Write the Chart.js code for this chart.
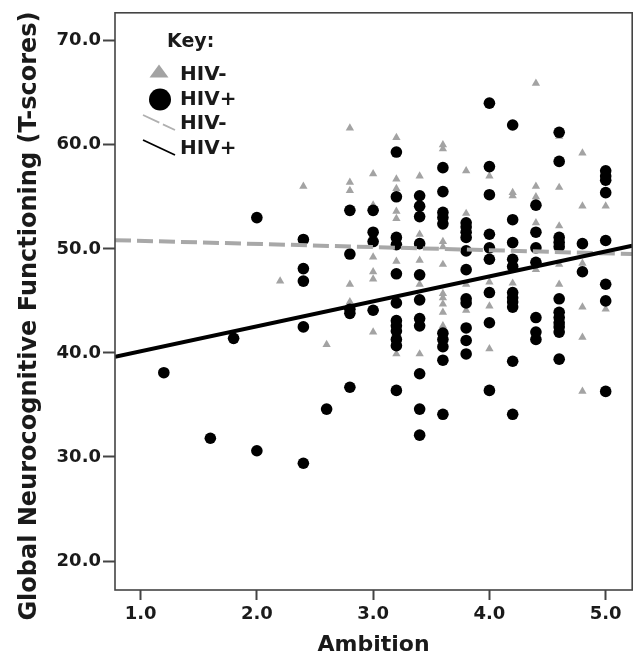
<!DOCTYPE html>
<html>
<head>
<meta charset="utf-8">
<script src="https://cdn.jsdelivr.net/npm/chart.js@4.4.1/dist/chart.umd.min.js"></script>
<style>
  html, body { margin: 0; padding: 0; background: #ffffff; }
  #wrap { width: 638px; height: 658px; }
</style>
</head>
<body>
<div id="wrap"><canvas id="c" width="638" height="658"></canvas></div>
<script>
// ---------- data ----------
const xTicks = [1.0, 2.0, 3.0, 4.0, 5.0];
const yTicks = [20, 30, 40, 50, 60, 70];
const xRange = [0.78, 5.228];
const yRange = [17.22, 72.68];

// HIV- (triangles)
const hivNegAmbition = [
  2.2, 2.4, 2.6,
  2.8, 2.8, 2.8, 2.8, 2.8,
  3.0, 3.0, 3.0, 3.0, 3.0, 3.0,
  3.2, 3.2, 3.2, 3.2, 3.2, 3.2, 3.2,
  3.4, 3.4, 3.4, 3.4, 3.4,
  3.6, 3.6, 3.6, 3.6, 3.6, 3.6, 3.6, 3.6, 3.6, 3.6,
  3.8, 3.8, 3.8, 3.8,
  4.0, 4.0, 4.0, 4.0,
  4.2, 4.2, 4.2,
  4.4, 4.4, 4.4, 4.4, 4.4,
  4.6, 4.6, 4.6, 4.6, 4.6,
  4.8, 4.8, 4.8, 4.8, 4.8, 4.8,
  5.0, 5.0
];
const hivNegScore = [
  46.9, 56.0, 40.8,
  61.6, 56.4, 55.6, 46.6, 44.9,
  57.2, 54.2, 49.2, 47.8, 47.1, 42.0,
  60.7, 56.7, 55.8, 53.6, 52.9, 48.8, 39.9,
  57.0, 51.4, 48.9, 46.6, 39.9,
  60.0, 59.6, 50.7, 50.2, 48.5, 45.7, 45.3, 44.7, 43.9, 42.6,
  57.5, 53.4, 46.6, 44.1,
  57.0, 46.8, 44.5, 40.4,
  55.4, 55.1, 46.7,
  65.9, 56.0, 55.0, 52.5, 48.0,
  60.8, 55.9, 52.2, 48.5, 46.6,
  59.2, 54.1, 48.6, 44.4, 41.5, 36.3,
  54.1, 44.2
];

// HIV+ (circles)
const hivPosAmbition = [
  1.2, 1.6, 1.8,
  2.0, 2.0,
  2.4, 2.4, 2.4, 2.4, 2.4,
  2.6,
  2.8, 2.8, 2.8, 2.8, 2.8,
  3.0, 3.0, 3.0, 3.0,
  3.2, 3.2, 3.2, 3.2, 3.2, 3.2, 3.2, 3.2, 3.2, 3.2, 3.2, 3.2,
  3.4, 3.4, 3.4, 3.4, 3.4, 3.4, 3.4, 3.4, 3.4, 3.4, 3.4,
  3.6, 3.6, 3.6, 3.6, 3.6, 3.6, 3.6, 3.6, 3.6, 3.6,
  3.8, 3.8, 3.8, 3.8, 3.8, 3.8, 3.8, 3.8, 3.8, 3.8, 3.8,
  4.0, 4.0, 4.0, 4.0, 4.0, 4.0, 4.0, 4.0, 4.0,
  4.2, 4.2, 4.2, 4.2, 4.2, 4.2, 4.2, 4.2, 4.2, 4.2, 4.2,
  4.4, 4.4, 4.4, 4.4, 4.4, 4.4, 4.4,
  4.6, 4.6, 4.6, 4.6, 4.6, 4.6, 4.6, 4.6, 4.6, 4.6, 4.6, 4.6,
  4.8, 4.8,
  5.0, 5.0, 5.0, 5.0, 5.0, 5.0, 5.0, 5.0
];
const hivPosScore = [
  38.1, 31.8, 41.4,
  53.0, 30.6,
  50.9, 48.1, 46.9, 42.5, 29.4,
  34.6,
  53.7, 49.5, 44.2, 43.8, 36.7,
  53.7, 51.6, 50.7, 44.1,
  59.3, 55.0, 51.1, 50.4, 47.6, 44.8, 43.1, 42.6, 42.1, 41.3, 40.7, 36.4,
  55.1, 54.1, 53.1, 50.5, 47.5, 45.1, 43.3, 42.6, 38.0, 34.6, 32.1,
  57.8, 55.5, 53.5, 53.0, 52.4, 41.9, 41.3, 40.6, 39.3, 34.1,
  52.5, 52.1, 51.6, 51.1, 49.8, 48.0, 45.2, 44.8, 42.4, 41.2, 39.9,
  64.0, 57.9, 55.2, 51.4, 50.1, 49.0, 45.8, 42.9, 36.4,
  61.9, 52.8, 50.6, 49.0, 48.3, 45.8, 45.3, 44.9, 44.4, 39.2, 34.1,
  54.2, 51.6, 50.1, 48.7, 43.4, 42.0, 41.3,
  61.2, 58.4, 51.1, 50.6, 50.2, 45.2, 43.9, 43.4, 42.9, 42.5, 42.0, 39.4,
  50.5, 47.8,
  57.5, 57.0, 56.6, 55.4, 50.8, 46.6, 45.0, 36.3
];

// fitted regression lines: [intercept, slope]
const hivNegFit = [51.07, -0.30];
const hivPosFit = [37.75, 2.40];

// ---------- helpers ----------
const FONT = '"DejaVu Sans", "Liberation Sans", Arial, sans-serif';
const TEXT = '#1a1a1a';
const zip = (xs, ys) => xs.map((x, i) => ({ x: x, y: ys[i] }));
const fitLine = f => xRange.map(x => ({ x: x, y: f[0] + f[1] * x }));

const framePlugin = {
  id: 'frame',
  afterDatasetsDraw(chart) {
    const a = chart.chartArea, ctx = chart.ctx;
    ctx.save();
    ctx.strokeStyle = '#444';
    ctx.lineWidth = 1.6;
    ctx.strokeRect(a.left, a.top, a.right - a.left, a.bottom - a.top);
    ctx.restore();
  }
};

const yTitlePlugin = {
  id: 'ytitle',
  afterDraw(chart) {
    const ctx = chart.ctx;
    ctx.save();
    ctx.translate(30, 316);
    ctx.rotate(-Math.PI / 2);
    ctx.font = 'bold 24px ' + FONT;
    ctx.fillStyle = TEXT;
    ctx.textAlign = 'center';
    ctx.textBaseline = 'middle';
    ctx.fillText('Global Neurocognitive Functioning (T-scores)', 0, 0);
    ctx.restore();
  }
};

const keyPlugin = {
  id: 'key',
  afterDraw(chart) {
    const ctx = chart.ctx;
    ctx.save();
    ctx.fillStyle = TEXT;
    ctx.font = 'bold 19px ' + FONT;
    ctx.textAlign = 'left';
    ctx.textBaseline = 'middle';
    ctx.fillText('Key:', 167, 42);
    // triangle
    ctx.fillStyle = '#a3a3a3';
    ctx.beginPath();
    ctx.moveTo(159, 64.5); ctx.lineTo(168.5, 77.5); ctx.lineTo(149.5, 77.5); ctx.closePath();
    ctx.fill();
    // circle
    ctx.fillStyle = '#000';
    ctx.beginPath(); ctx.arc(160, 99.5, 11, 0, Math.PI * 2); ctx.fill();
    // dashed line
    ctx.strokeStyle = '#b0b0b0'; ctx.lineWidth = 1.8; ctx.setLineDash([18, 4]);
    ctx.beginPath(); ctx.moveTo(143, 115); ctx.lineTo(175, 130); ctx.stroke();
    ctx.setLineDash([]);
    ctx.strokeStyle = '#000';
    ctx.beginPath(); ctx.moveTo(143, 140); ctx.lineTo(175, 155); ctx.stroke();
    // texts
    ctx.fillStyle = TEXT;
    ctx.font = 'bold 20px ' + FONT;
    ctx.fillText('HIV-', 180, 75);
    ctx.fillText('HIV+', 180, 99.5);
    ctx.fillText('HIV-', 180, 124);
    ctx.fillText('HIV+', 180, 149);
    ctx.restore();
  }
};

const tickFont = { family: FONT, size: 18, weight: 'bold' };

new Chart(document.getElementById('c'), {
  type: 'scatter',
  data: {
    datasets: [
      { label: 'HIV+ fit', type: 'line', data: fitLine(hivPosFit), borderColor: '#000', borderWidth: 4,
        pointRadius: 0, fill: false, order: 1 },
      { label: 'HIV- fit', type: 'line', data: fitLine(hivNegFit), borderColor: '#a8a8a8', borderWidth: 4,
        borderDash: [16, 6], pointRadius: 0, fill: false, order: 2 },
      { label: 'HIV+', data: zip(hivPosAmbition, hivPosScore), pointStyle: 'circle', pointRadius: 5.8,
        backgroundColor: '#000', borderColor: '#000', borderWidth: 0, order: 3 },
      { label: 'HIV-', data: zip(hivNegAmbition, hivNegScore), pointStyle: 'triangle', pointRadius: 4.8,
        backgroundColor: '#a3a3a3', borderColor: '#a3a3a3', borderWidth: 0, order: 4 }
    ]
  },
  options: {
    responsive: false,
    animation: false,
    layout: { padding: { left: 0, right: 3, top: 12, bottom: 0 } },
    plugins: { legend: { display: false }, tooltip: { enabled: false } },
    scales: {
      x: {
        type: 'linear', min: xRange[0], max: xRange[1],
        afterBuildTicks: s => { s.ticks = xTicks.map(v => ({ value: v })); },
        afterFit: s => { s.height = 68; },
        ticks: { callback: v => Number(v).toFixed(1), font: tickFont, color: TEXT, padding: 4, maxRotation: 0 },
        grid: { display: true, drawOnChartArea: false, drawTicks: true, tickLength: 10, tickWidth: 2, tickColor: '#444' },
        border: { display: false },
        title: { display: true, text: 'Ambition', color: TEXT, font: { family: FONT, size: 22, weight: 'bold' },
                 padding: { top: 0, bottom: 0 } }
      },
      y: {
        type: 'linear', min: yRange[0], max: yRange[1],
        afterBuildTicks: s => { s.ticks = yTicks.map(v => ({ value: v })); },
        afterFit: s => { s.width = 115; },
        ticks: { callback: v => Number(v).toFixed(1), font: tickFont, color: TEXT, padding: 2 },
        grid: { display: true, drawOnChartArea: false, drawTicks: true, tickLength: 12, tickWidth: 2, tickColor: '#444' },
        border: { display: false }
      }
    }
  },
  plugins: [framePlugin, yTitlePlugin, keyPlugin]
});
</script>
</body>
</html>
